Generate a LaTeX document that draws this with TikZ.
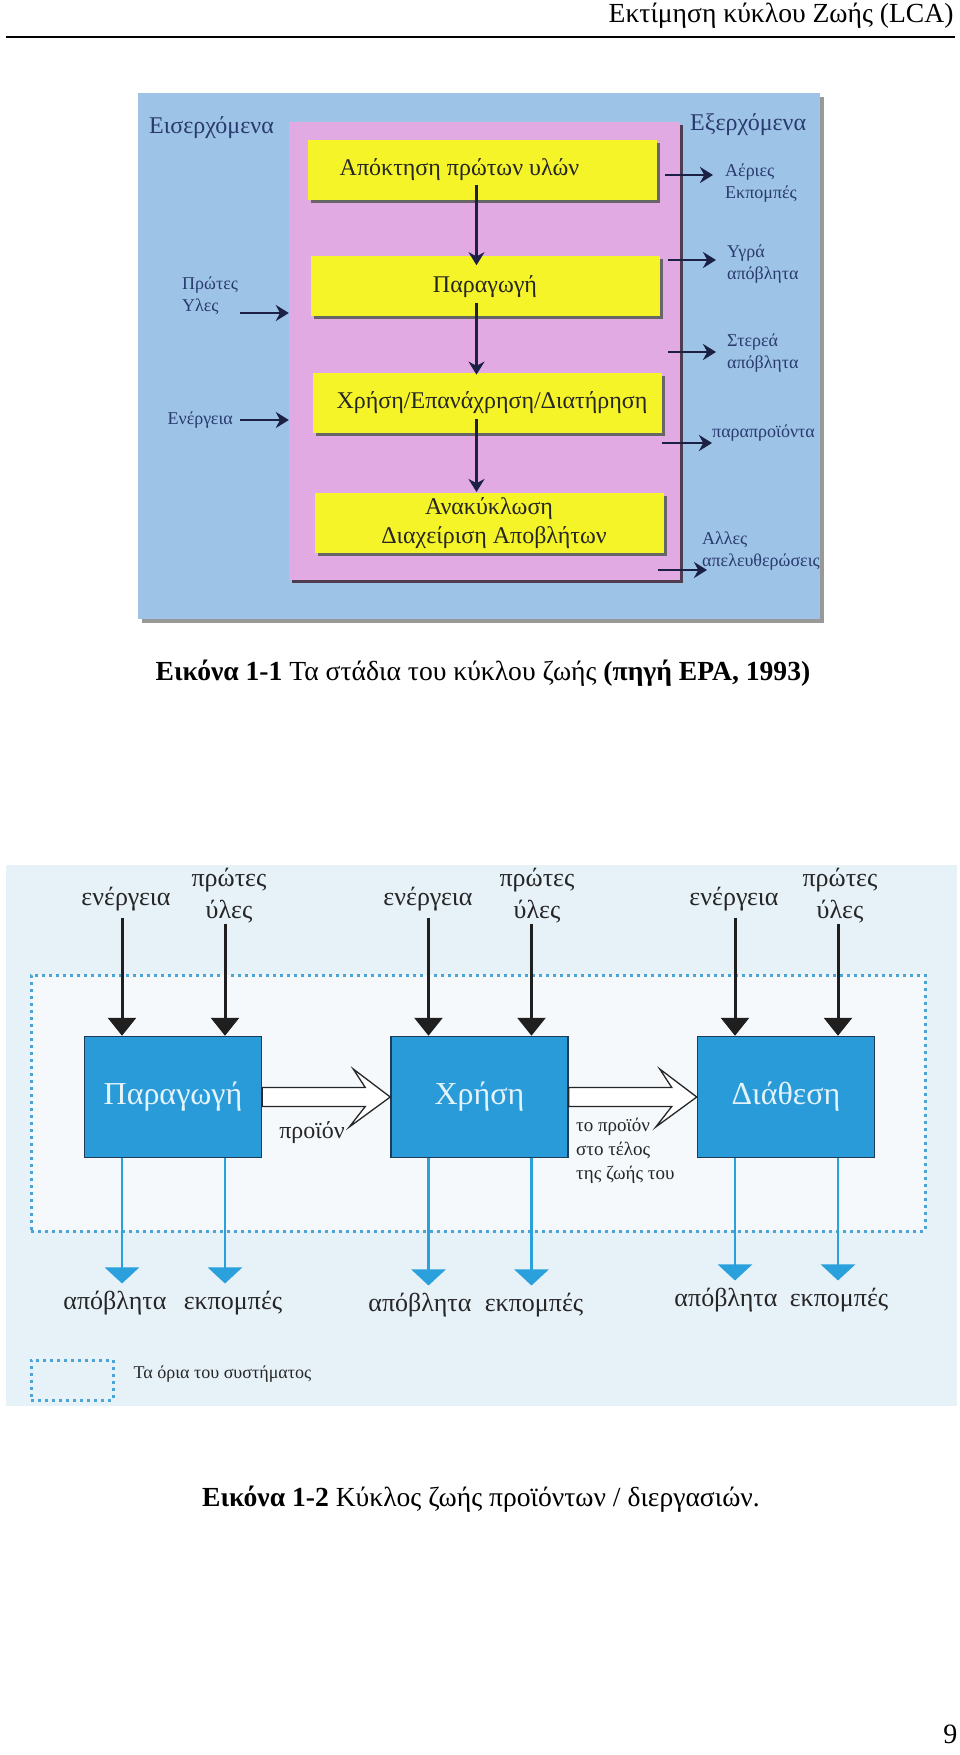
\documentclass[tikz,border=0pt]{standalone}
\usepackage{fontspec}
\setmainfont{Liberation Serif}
\usepackage{tikz}
\usetikzlibrary{positioning}
\usetikzlibrary{arrows}
\usetikzlibrary{arrows.meta}
\usetikzlibrary{shadows}
\definecolor{outerC}{HTML}{9DC3E6}
\definecolor{lifeC}{HTML}{E2AAE2}
\definecolor{stageC}{HTML}{F5F428}
\definecolor{navyC}{HTML}{1C2045}
\definecolor{labC}{HTML}{2A3A6E}
\definecolor{skyC}{HTML}{E6F1F8}
\definecolor{paleC}{HTML}{F5F9FC}
\definecolor{procC}{HTML}{2A9BD9}
\definecolor{edgeC}{HTML}{1F3B55}
\definecolor{flowC}{HTML}{2AA0DC}
\definecolor{dotC}{HTML}{4AA5D6}
\tikzstyle{obox}=[shape=rectangle, fill=outerC, minimum width=682pt, minimum height=526pt, inner sep=0pt, drop shadow={shadow xshift=4pt, shadow yshift=-4pt, fill=black!40, opacity=1}]
\tikzstyle{lbox}=[shape=rectangle, fill=lifeC, minimum width=391pt, minimum height=458pt, inner sep=0pt, drop shadow={shadow xshift=3pt, shadow yshift=-3pt, fill=lifeC!35!black, opacity=1}]
\tikzstyle{ybox}=[shape=rectangle, fill=stageC, minimum width=349pt, minimum height=60pt, inner sep=0pt, align=center, text=black!85, font=\fontsize{24}{29}\selectfont, drop shadow={shadow xshift=3pt, shadow yshift=-3pt, fill=black!60, opacity=1}]
\tikzstyle{flab}=[inner sep=0pt, text=labC, align=left, font=\fontsize{18}{22}\selectfont]
\tikzstyle{hlab}=[inner sep=0pt, text=labC, font=\fontsize{24}{28}\selectfont]
\tikzstyle{marrow}=[line width=2.4pt, >={Stealth[length=13pt,width=16pt]}, ->, color=navyC]
\tikzstyle{pbox}=[draw=edgeC, line width=1.5pt, fill=procC, shape=rectangle, minimum width=177pt, minimum height=121pt, inner sep=0pt, text=procC!12!white, font=\fontsize{32}{36}\selectfont]
\tikzstyle{plab}=[inner sep=0pt, align=center, text=black!85, font=\fontsize{26}{32}\selectfont]
\tikzstyle{slab}=[inner sep=0pt, align=left, text=black!85, font=\fontsize{19}{24}\selectfont]
\tikzstyle{inarr}=[line width=3pt, draw=black!88, -{Triangle[width=28pt,length=18pt]}]
\tikzstyle{outarr}=[line width=2.5pt, draw=flowC, shorten >=7pt, -{Triangle[width=34pt,length=16pt]}]
\tikzstyle{harrow}=[draw=black!85, line width=1.3pt, fill=white, line join=miter]
\tikzstyle{dotbox}=[draw=dotC, line width=3pt, dash pattern=on 3pt off 4pt, shape=rectangle, inner sep=0pt]
\begin{document}
\begin{tikzpicture}[x=1pt, y=-1pt]
      \useasboundingbox (0,0) rectangle (960,1755);
      \fill[white] (0,0) rectangle (960,1755);
      % page head
      \node (head) [anchor=base east, font=\fontsize{27.6}{32}\selectfont] at (957,23) {Εκτίμηση κύκλου Ζωής (LCA)};
      \draw[line width=2pt] (6,37) -- (955,37);

      % stages
      \node (outer) [obox] at (479,356) {};
      \node (life)  [lbox] at (484.5,351) {};
      \node (raw)   [ybox] at (482.5,170) {Απόκτηση πρώτων υλών\hspace*{46pt}};
      \node (prod)  [ybox, below=56pt of raw, xshift=2.5pt]  {Παραγωγή};
      \node (use1)  [ybox, below=56pt of prod, xshift=2pt]   {\hspace*{10pt}Χρήση/Επανάχρηση/Διατήρηση};
      \node (recyc) [ybox, below=60pt of use1, xshift=2pt]   {Ανακύκλωση\\\hspace*{10pt}Διαχείριση Αποβλήτων};

      \draw[marrow] ([shift={(-6pt,15pt)}]raw.south)  -- ([shift={(-8.5pt,-9pt)}]prod.north);
      \draw[marrow] ([shift={(-8.5pt,14pt)}]prod.south) -- ([shift={(-10.5pt,-2pt)}]use1.north);
      \draw[marrow] ([shift={(-10.5pt,14pt)}]use1.south) -- ([shift={(-12.5pt,1pt)}]recyc.north);

      % inputs
      \node (inlab)  [hlab, anchor=west] at (149,128) {Εισερχόμενα};
      \node (rawlab) [flab, anchor=west] at (182,296) {Πρώτες\\Υλες};
      \node (enlab)  [flab, anchor=east] at (233,420) {Ενέργεια};
      \coordinate (rawA) at (240,313);
      \coordinate (enA)  at (240,420);
      \draw[marrow] (rawA) -- (rawA -| life.west);
      \draw[marrow] (enA)  -- (enA -| life.west);

      % outputs
      \node (outlab) [hlab, anchor=west] at (690,125) {Εξερχόμενα};
      \node (gaslab) [flab, anchor=west] at (725,183) {Αέριες\\Εκπομπές};
      \node (liqlab) [flab, anchor=west] at (727,264) {Υγρά\\απόβλητα};
      \node (sollab) [flab, anchor=west] at (727,353) {Στερεά\\απόβλητα};
      \node (bylab)  [flab, anchor=west] at (712,433) {παραπροϊόντα};
      \node (rellab) [flab, anchor=west] at (702,551) {Αλλες\\απελευθερώσεις};
      \coordinate (gasA) at (665,175); \coordinate (gasB) at (713,175);
      \coordinate (liqA) at (668,260); \coordinate (liqB) at (716,260);
      \coordinate (solA) at (668,352); \coordinate (solB) at (716,352);
      \coordinate (byA)  at (662,443); \coordinate (byB)  at (712,443);
      \coordinate (relA) at (658,570); \coordinate (relB) at (707,570);
      \draw[marrow] (gasA) -- (gasB);
      \draw[marrow] (liqA) -- (liqB);
      \draw[marrow] (solA) -- (solB);
      \draw[marrow] (byA)  -- (byB);
      \draw[marrow] (relA) -- (relB);

      \node (cap1) [anchor=base, font=\fontsize{27.6}{30}\selectfont] at (483,680) {\textbf{Εικόνα 1-1} Τα στάδια του κύκλου ζωής \textbf{(πηγή EPA, 1993)}};

      % life cycle
      \fill[skyC] (6,865) rectangle (957,1406);
      \node (sysb) [dotbox, fill=paleC, minimum width=894pt, minimum height=256pt] at (478,1103) {};

      \node (bprod) [pbox] at (173,1097)          {Παραγωγή};
      \node (buse)  [pbox, right=128pt of bprod] {Χρήση};
      \node (bdisp) [pbox, right=128pt of buse]  {Διάθεση};

      \draw[harrow] ([yshift=9.5pt]bprod.east) -- ([shift={(-25pt,9.5pt)}]buse.west) -- ([shift={(-37pt,28pt)}]buse.west)
            -- (buse.west) -- ([shift={(-41pt,-30pt)}]buse.west) -- ([shift={(-25pt,-9.5pt)}]buse.west) -- ([yshift=-9.5pt]bprod.east) -- cycle;
      \draw[harrow] ([yshift=9.5pt]buse.east) -- ([shift={(-25pt,9.5pt)}]bdisp.west) -- ([shift={(-37pt,28pt)}]bdisp.west)
            -- (bdisp.west) -- ([shift={(-41pt,-30pt)}]bdisp.west) -- ([shift={(-25pt,-9.5pt)}]bdisp.west) -- ([yshift=-9.5pt]buse.east) -- cycle;
      \node (prodlab) [plab, font=\fontsize{24}{28}\selectfont] at (312,1133) {προϊόν};
      \node (eollab)  [slab, anchor=north west] at (576,1118) {το προϊόν\\στο τέλος\\της ζωής του};

      % inputs
      \coordinate (e1) at ([xshift=-51pt]bprod.north);
      \coordinate (m1) at ([xshift=52pt]bprod.north);
      \coordinate (e2) at ([xshift=-51pt]buse.north);
      \coordinate (m2) at ([xshift=52pt]buse.north);
      \coordinate (e3) at ([xshift=-51pt]bdisp.north);
      \coordinate (m3) at ([xshift=52pt]bdisp.north);
      \node (en1)  [plab, anchor=base] at (126,905) {ενέργεια};
      \node (mat1) [plab] at (229,896) {πρώτες\\ύλες};
      \node (en2)  [plab, anchor=base] at (428,905) {ενέργεια};
      \node (mat2) [plab] at (537,896) {πρώτες\\ύλες};
      \node (en3)  [plab, anchor=base] at (734,905) {ενέργεια};
      \node (mat3) [plab] at (840,896) {πρώτες\\ύλες};
      \draw[inarr, shorten <=7pt] (en1.south -| e1) -- (e1);
      \draw[inarr]                (mat1.south -| m1) -- (m1);
      \draw[inarr, shorten <=7pt] (en2.south -| e2) -- (e2);
      \draw[inarr]                (mat2.south -| m2) -- (m2);
      \draw[inarr, shorten <=7pt] (en3.south -| e3) -- (e3);
      \draw[inarr]                (mat3.south -| m3) -- (m3);

      % outputs
      \coordinate (w1) at ([xshift=-51pt]bprod.south);
      \coordinate (x1) at ([xshift=52pt]bprod.south);
      \coordinate (w2) at ([xshift=-51pt]buse.south);
      \coordinate (x2) at ([xshift=52pt]buse.south);
      \coordinate (w3) at ([xshift=-51pt]bdisp.south);
      \coordinate (x3) at ([xshift=52pt]bdisp.south);
      \node (wst1) [plab, anchor=base] at (115,1309) {απόβλητα};
      \node (ems1) [plab, anchor=base] at (233,1309) {εκπομπές};
      \node (wst2) [plab, anchor=base] at (420,1311) {απόβλητα};
      \node (ems2) [plab, anchor=base] at (534,1311) {εκπομπές};
      \node (wst3) [plab, anchor=base] at (726,1306) {απόβλητα};
      \node (ems3) [plab, anchor=base] at (839,1306) {εκπομπές};
      \draw[outarr] (w1) -- (w1 |- wst1.north);
      \draw[outarr] (x1) -- (x1 |- ems1.north);
      \draw[outarr] (w2) -- (w2 |- wst2.north);
      \draw[outarr] (x2) -- (x2 |- ems2.north);
      \draw[outarr] (w3) -- (w3 |- wst3.north);
      \draw[outarr] (x3) -- (x3 |- ems3.north);

      % legend
      \node (legbox) [dotbox, minimum width=82pt, minimum height=40pt] at (72,1380) {};
      \node (legtxt) [slab, font=\fontsize{18}{22}\selectfont, right=19pt of legbox, yshift=6pt] {Τα όρια του συστήματος};

      \node (cap2) [anchor=base, font=\fontsize{27.6}{30}\selectfont] at (481,1506) {\textbf{Εικόνα 1-2} Κύκλος ζωής προϊόντων / διεργασιών.};
      \node (pnum) [anchor=base east, font=\fontsize{28}{30}\selectfont] at (961,1743) {9};
\end{tikzpicture}
\end{document}
